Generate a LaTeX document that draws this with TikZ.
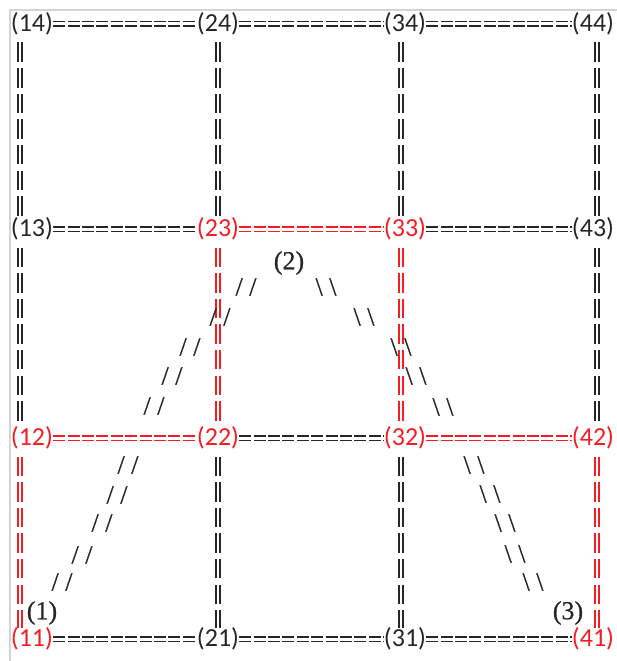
\documentclass[tikz,border=0pt]{standalone}
\usepackage{fontspec}
\setmainfont{Carlito}
\newfontfamily\asciiserif[FakeBold=0.6]{Liberation Serif}
\usetikzlibrary{positioning}
\definecolor{ink}{RGB}{38,38,38}
\definecolor{route}{RGB}{245,28,36}
\definecolor{frame}{RGB}{212,212,212}

\begin{document}
\begin{tikzpicture}[x=1pt, y=-1pt,
  vx/.style={inner sep=0pt, text height=19.6pt, text depth=5pt, font=\fontsize{26}{30}\selectfont, text=ink},
  hot/.style={text=route},
  hedge/.style={line width=1.4pt, double=white, double distance=3pt, dash pattern=on 12pt off 2.4pt},
  vedge/.style={line width=1.5pt, double=white, double distance=2.4pt, dash pattern=on 19.5pt off 6.1pt},
  tag/.style={inner sep=0pt, font=\asciiserif\fontsize{26}{30}\selectfont, text=ink},
  slash/.style={tag}]
\useasboundingbox (0,0) rectangle (617,661);
\draw[frame, line width=1.5pt] (10,661) -- (10,10) -- (617,10);
% grid points
\node[vx] (v14) at (32,24) {(14)};
\node[vx] (v24) at (218,24) {(24)};
\node[vx] (v34) at (405,24) {(34)};
\node[vx] (v44) at (593,24) {(44)};
\node[vx] (v13) at (32,229) {(13)};
\node[vx, hot] (v23) at (218,229) {(23)};
\node[vx, hot] (v33) at (405,229) {(33)};
\node[vx] (v43) at (593,229) {(43)};
\node[vx, hot] (v12) at (32,438) {(12)};
\node[vx, hot] (v22) at (218,438) {(22)};
\node[vx, hot] (v32) at (405,438) {(32)};
\node[vx, hot] (v42) at (593,438) {(42)};
\node[vx, hot] (v11) at (32,639) {(11)};
\node[vx] (v21) at (218,639) {(21)};
\node[vx] (v31) at (405,639) {(31)};
\node[vx, hot] (v41) at (593,639) {(41)};
% rows
\foreach \a/\b/\col in {14/24/ink, 24/34/ink, 34/44/ink,
    13/23/ink, 23/33/route, 33/43/ink,
    12/22/route, 22/32/ink, 32/42/route,
    11/21/ink, 21/31/ink, 31/41/ink}
  \draw[hedge, draw=\col] (v\a) -- (v\b);
% columns
\foreach \dx/\a/\b/\col in {-12/14/13/ink, -12/13/12/ink, -12/12/11/route,
    0/24/23/ink, 0/23/22/route, 0/22/21/ink,
    -4/34/33/ink, -4/33/32/route, -4/32/31/ink,
    4/44/43/ink, 4/43/42/ink, 4/42/41/route}
  \draw[vedge, draw=\col] ([xshift=\dx pt, yshift=-6pt]v\a.south) -- ([xshift=\dx pt, yshift=-1pt]v\b.north);
% the tent
\node[tag] (t1) at (42,613) {(1)};
\node[tag] (t2) at (289,263) {(2)};
\node[tag] (t3) at (568,613) {(3)};
\foreach \x/\y [count=\i] in {246/287, 220/317, 190/347, 172/376, 154/406,
    128/465, 117/495, 102/523, 82/555, 62/582}
  \node[slash] (up\i) at (\x,\y) {/ /};
\foreach \x/\y [count=\i] in {326/287, 364/317, 401/347, 416/376, 443/407,
    474/465, 490/494, 505/523, 515/554, 533/582}
  \node[slash] (down\i) at (\x,\y) {\textbackslash\ \textbackslash};
\end{tikzpicture}
\end{document}
